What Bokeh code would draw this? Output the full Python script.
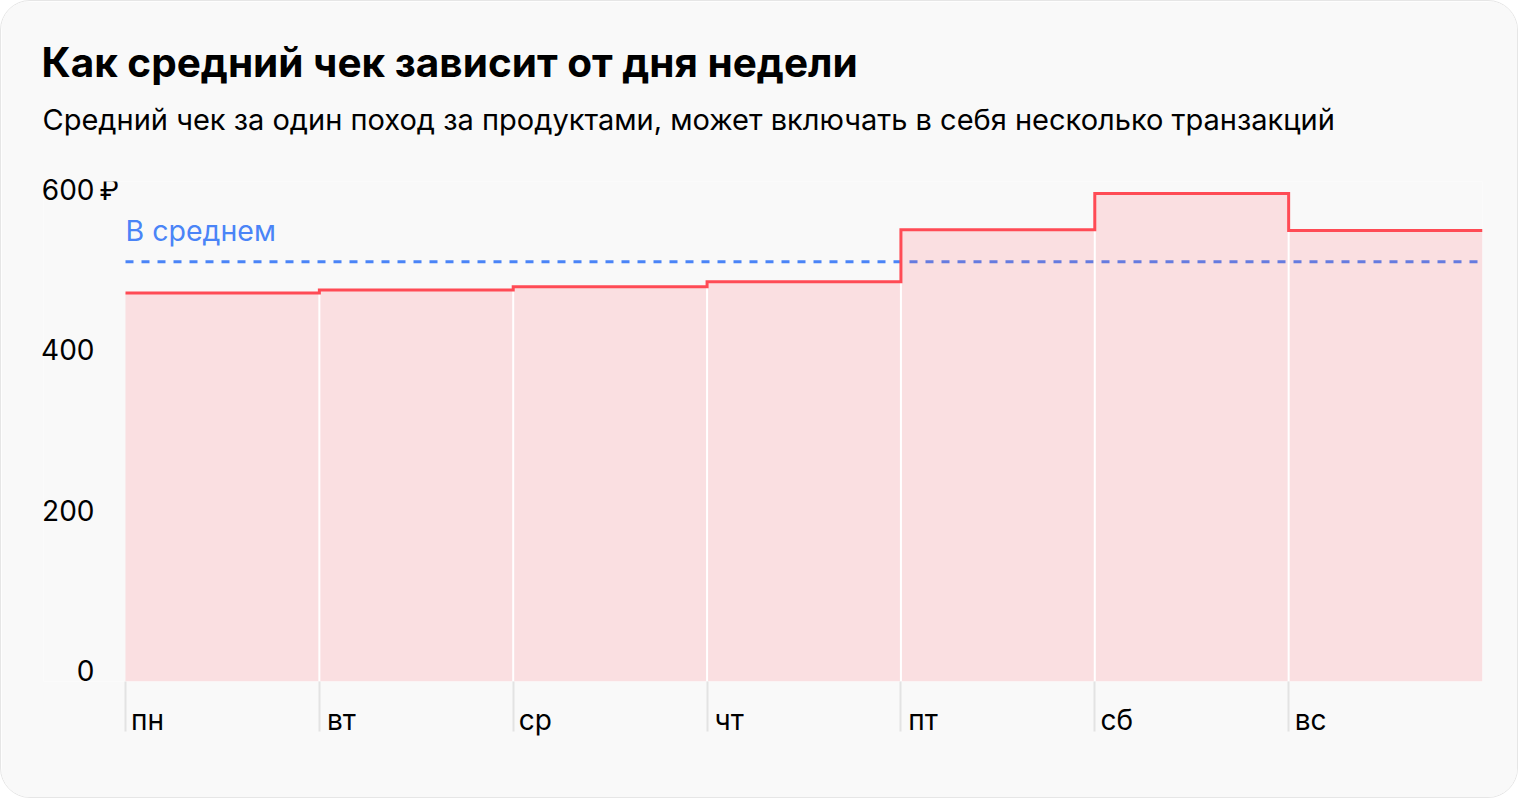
from bokeh.plotting import figure
from bokeh.models import Range1d, FixedTicker, ColumnDataSource, Title
from bokeh.core.properties import value
from bokeh.embed import file_html
from bokeh.resources import INLINE

# ---- data ----
days = ["пн", "вт", "ср", "чт", "пт", "сб", "вс"]
avg_check = [484, 488, 492, 498, 563, 608, 562]
overall_avg = 523
y_ticks = [0, 200, 400, 600]
y_tick_labels = ["0", "200", "400", "600"]
currency = "₽"
title = "Как средний чек зависит от дня недели"
subtitle = "Средний чек за один поход за продуктами, может включать в себя несколько транзакций"
avg_label = "В среднем"

FONT = "Inter"
RED = "#ff4b55"
BLUE = "#4a84f7"
BG = "#f9f9f9"

n = len(days)
x_pos = list(range(n))

# layout geometry (pixels)
W, H = 1518, 798
LEFT, RIGHT, TOP, BOTTOM = 42, 37, 180, 118
DAY0 = 124                      # pixel where the first day starts
px_per_day = (W - RIGHT - DAY0) / n
px_per_unit = 0.8025
y_max = (H - TOP - BOTTOM) / px_per_unit
x_start = -(DAY0 - LEFT) / px_per_day

def dx(px):
    return px / px_per_day

def dy(px):
    return px / px_per_unit

p = figure(width=W, height=H, output_backend="svg", toolbar_location=None, title=None,
           x_range=Range1d(x_start, n), y_range=Range1d(0, y_max),
           min_border_left=LEFT, min_border_right=RIGHT, min_border_top=TOP, min_border_bottom=BOTTOM,
           background_fill_color=BG, border_fill_color=BG, outline_line_color=None)
p.grid.visible = False
p.styles = {"border": "1px solid #e6e6e6", "border-radius": "30px", "overflow": "hidden"}

# titles (subtitle first: it sits closest to the plot)
p.add_layout(Title(text=subtitle, align="left", offset=-1, standoff=89,
                   text_font=FONT, text_font_size="29px", text_font_style="normal",
                   text_color="#000000"), "above")
p.add_layout(Title(text=title, align="left", offset=-2, standoff=-63,
                   text_font=FONT, text_font_size="40.5px", text_font_style="bold",
                   text_color="#000000"), "above")

# average dashed line (under the fill)
p.segment(x0=[x_pos[0]], y0=[overall_avg], x1=[n], y1=[overall_avg],
          line_color=BLUE, line_width=3, line_dash="8 8")

src = ColumnDataSource(dict(left=x_pos, right=[i + 1 for i in x_pos], top=avg_check, day=days))
p.quad(left="left", right="right", bottom=0, top="top", source=src,
       fill_color=RED, fill_alpha=0.15, line_color=None)

sep_x = x_pos[1:]
sep_top = [min(a, b) for a, b in zip(avg_check[:-1], avg_check[1:])]
p.segment(x0=sep_x, y0=[0] * len(sep_x), x1=sep_x, y1=sep_top, line_color="white", line_width=2)

p.step(x=x_pos + [n], y=avg_check + [avg_check[-1]], mode="after",
       line_color=RED, line_width=3, line_join="miter")

# "В среднем" label and currency sign
p.text(x=[x_pos[0]], y=[overall_avg], text=[avg_label], y_offset=-31,
       text_font=value(FONT), text_font_size="28.5px", text_color=BLUE,
       text_baseline="middle", text_align="left")
p.text(x=[x_pos[0] - dx(26)], y=[y_ticks[-1]], text=[currency], y_offset=-10,
       text_font=value(FONT), text_font_size="28px", text_color="#000000",
       text_baseline="middle", text_align="left")

# x axis: minor ticks = day boundaries, major (label) ticks centred on each label
label_pos = [i + dx(22) for i in x_pos]
xa = p.xaxis[0]
xa.ticker = FixedTicker(ticks=label_pos, minor_ticks=x_pos)
xa.major_label_overrides = {lp: d for lp, d in zip(label_pos, days)}
xa.axis_line_color = None
xa.major_tick_line_color = None
xa.major_tick_out = 0
xa.major_tick_in = 0
xa.minor_tick_line_color = "#e3e3e3"
xa.minor_tick_line_width = 2
xa.minor_tick_out = 50
xa.minor_tick_in = 0
xa.major_label_standoff = -29
xa.major_label_text_font = FONT
xa.major_label_text_font_size = "28px"
xa.major_label_text_color = "#000000"

# y axis: labels sit on their value, right edge at x = 93 px
ylab_pos = [t + dy(11) for t in y_ticks]
ya = p.yaxis[0]
ya.ticker = FixedTicker(ticks=ylab_pos)
ya.major_label_overrides = {t: s for t, s in zip(ylab_pos, y_tick_labels)}
ya.axis_line_color = None
ya.major_tick_line_color = None
ya.minor_tick_line_color = None
ya.major_tick_out = 0
ya.major_tick_in = 0
ya.major_label_standoff = -(93 - LEFT)
ya.major_label_text_font = FONT
ya.major_label_text_font_size = "28px"
ya.major_label_text_color = "#000000"

open("out.html", "w").write(file_html(p, INLINE))
